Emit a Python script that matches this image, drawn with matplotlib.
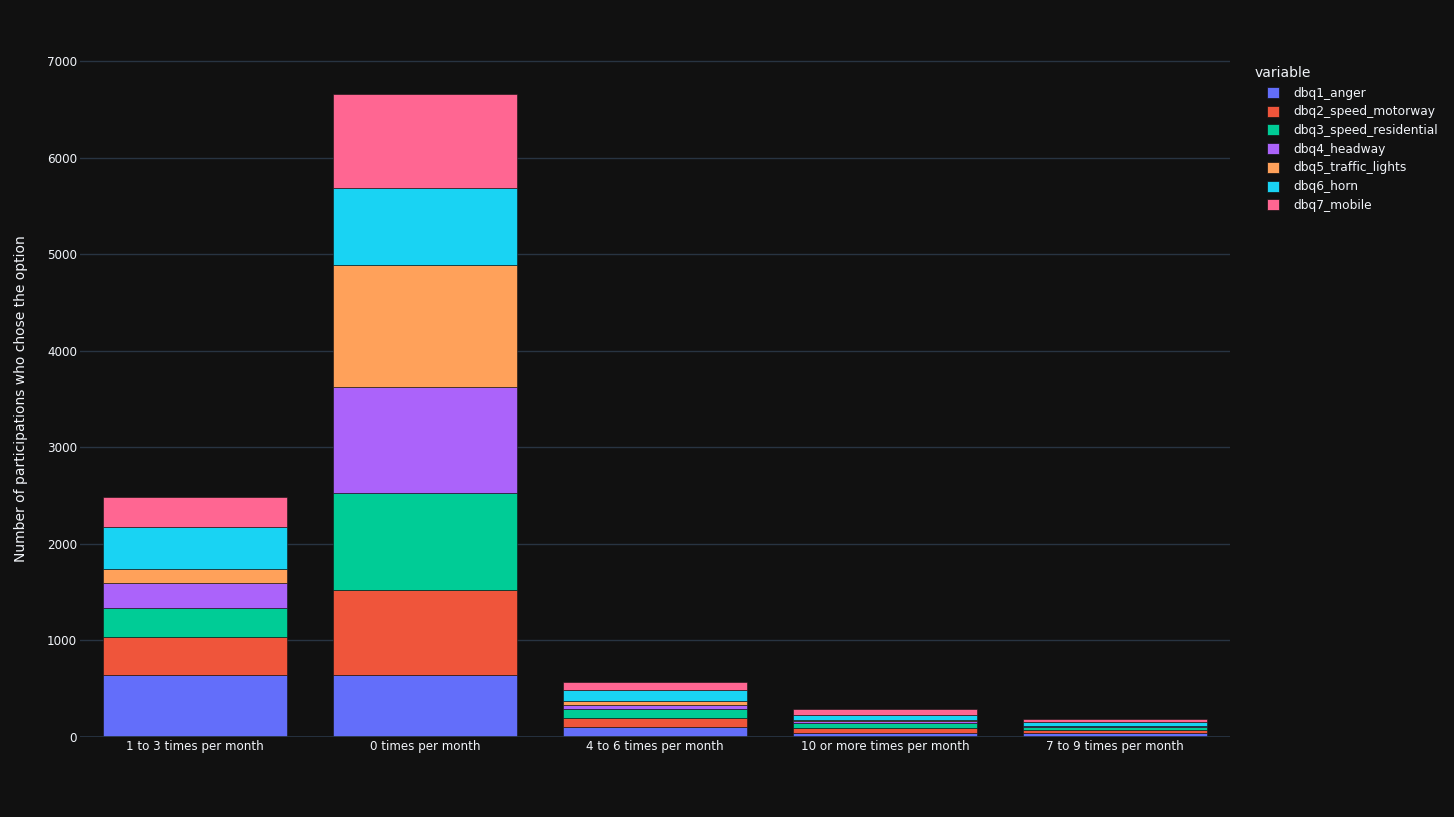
import matplotlib
matplotlib.use("Agg")
import matplotlib.pyplot as plt
from matplotlib.patches import Patch
import numpy as np

categories = ["1 to 3 times per month", "0 times per month", "4 to 6 times per month",
              "10 or more times per month", "7 to 9 times per month"]
series_names = ["dbq1_anger", "dbq2_speed_motorway", "dbq3_speed_residential",
                "dbq4_headway", "dbq5_traffic_lights", "dbq6_horn", "dbq7_mobile"]
dbq1_anger = [639, 642, 107, 45, 41]
dbq2_speed_motorway = [397, 880, 93, 51, 31]
dbq3_speed_residential = [297, 1005, 87, 52, 28]
dbq4_headway = [258, 1097, 47, 18, 11]
dbq5_traffic_lights = [146, 1264, 42, 13, 4]
dbq6_horn = [434, 797, 114, 52, 37]
dbq7_mobile = [314, 973, 80, 59, 34]
series_values = [dbq1_anger, dbq2_speed_motorway, dbq3_speed_residential,
                 dbq4_headway, dbq5_traffic_lights, dbq6_horn, dbq7_mobile]
colors = ["#636EFA", "#EF553B", "#00CC96", "#AB63FA", "#FFA15A", "#19D3F3", "#FF6692"]
yticks = [0, 1000, 2000, 3000, 4000, 5000, 6000, 7000]

BG = "#111111"
GRID = "#283442"
TXT = "#f2f5fa"
W, H = 1454, 817

fig = plt.figure(figsize=(W / 100, H / 100), dpi=100, facecolor=BG)
ax = fig.add_axes([80/W, 80/H, 1150/W, 677/H], facecolor=BG)

x = np.arange(len(categories))
bottom = np.zeros(len(categories))
for name, vals, c in zip(series_names, series_values, colors):
    v = np.array(vals, dtype=float)
    ax.bar(x, v, width=0.8, bottom=bottom, color=c, edgecolor=BG, linewidth=0.4,
           label=name, zorder=3)
    bottom += v

ax.set_xlim(-0.5, len(categories) - 0.5)
ax.set_ylim(0, 7010)
ax.set_yticks(yticks)
ax.set_yticklabels([str(t) for t in yticks])
ax.set_xticks(x)
ax.set_xticklabels(categories)
ax.tick_params(axis="both", colors=TXT, labelsize=8.6, length=0)
ax.tick_params(axis="y", pad=2)
ax.tick_params(axis="x", pad=2)
for lab in ax.get_xticklabels() + ax.get_yticklabels():
    lab.set_color(TXT)
ax.grid(axis="y", color=GRID, linewidth=1, zorder=0)
ax.axhline(0, color=GRID, linewidth=2, zorder=4)
for s in ax.spines.values():
    s.set_visible(False)
ax.set_ylabel("Number of participations who chose the option", color=TXT, fontsize=10, labelpad=14)

fig.text(1255/W, 1 - 73/H, "variable", color=TXT, fontsize=10, ha="left", va="center")
handles = [Patch(facecolor=c, edgecolor=BG, linewidth=0.5) for c in colors]
leg = fig.legend(handles, series_names, loc="upper left",
                 bbox_to_anchor=(1267/W, 1 - 86.5/H), frameon=False,
                 fontsize=8.8, handlelength=1.0, handleheight=1.0,
                 labelspacing=0.47, handletextpad=1.15, borderaxespad=0, borderpad=0)
for t in leg.get_texts():
    t.set_color(TXT)

fig.savefig("out.png", dpi=100, facecolor=BG)
